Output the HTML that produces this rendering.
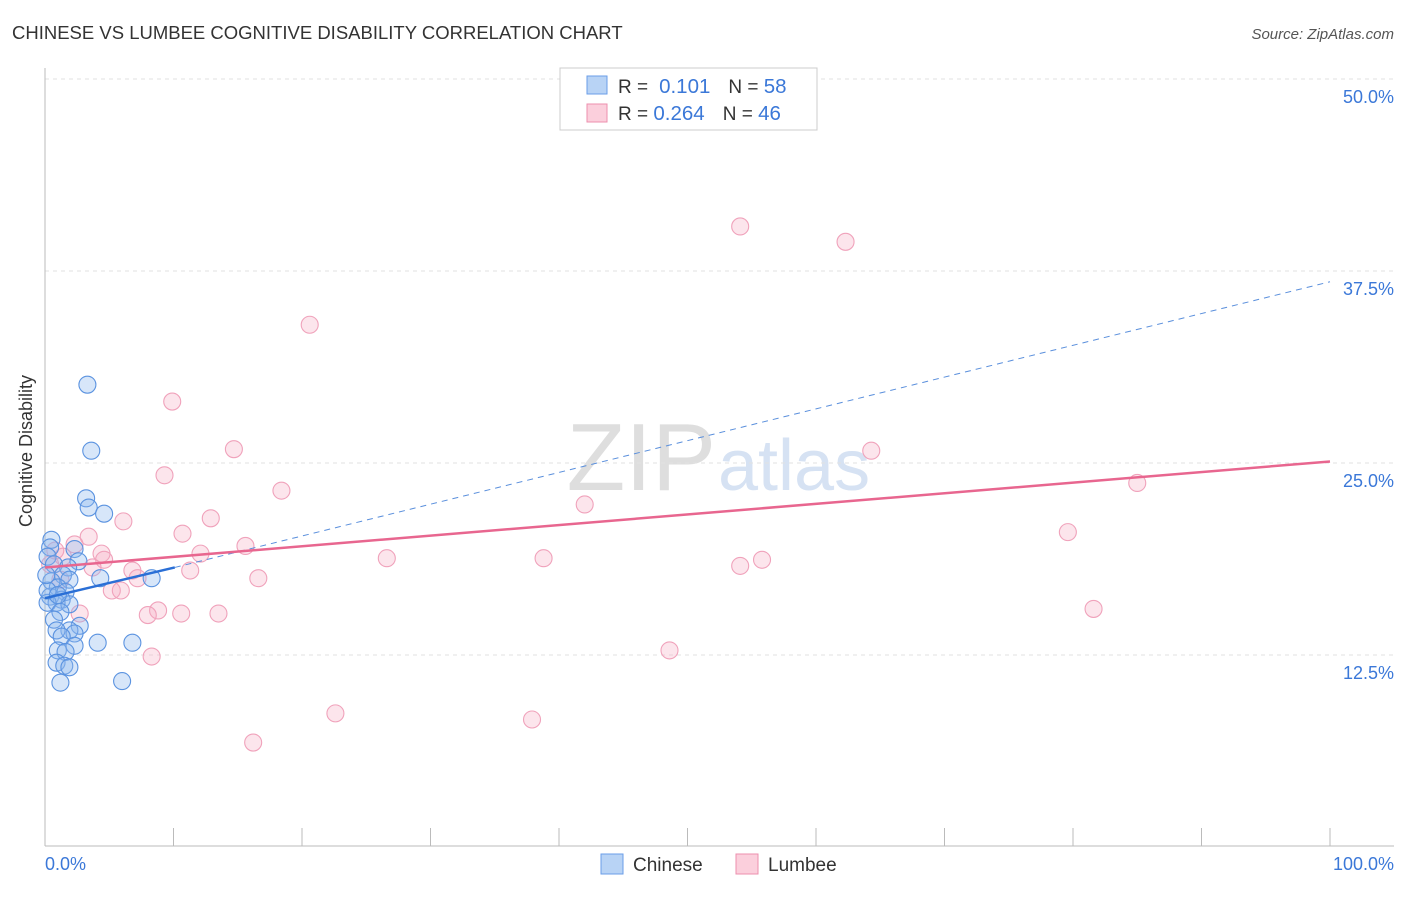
<!DOCTYPE html>
<html><head><meta charset="utf-8"><style>
body{margin:0;background:#fff;font-family:"Liberation Sans",sans-serif}
svg text{font-family:"Liberation Sans",sans-serif}
</style></head><body>
<svg id="c" width="1406" height="892" xmlns="http://www.w3.org/2000/svg">
<text x="12" y="39" font-size="18.5" fill="#333">CHINESE VS LUMBEE COGNITIVE DISABILITY CORRELATION CHART</text>
<text x="1394" y="39" font-size="15" fill="#555" font-style="italic" text-anchor="end">Source: ZipAtlas.com</text>
<text x="716" y="490" font-size="96" fill="#dedede" text-anchor="end" font-family="Liberation Serif">ZIP</text>
<text x="718" y="490" font-size="72" fill="#d6e2f3">atlas</text>
<g id="grid"></g>
<line x1="45" y1="68" x2="45" y2="846" stroke="#bbb"/>
<line x1="45" y1="846" x2="1394" y2="846" stroke="#bbb"/>
<text x="36" y="455" font-size="18" fill="#333" transform="rotate(-90 32 455)" text-anchor="middle">Cognitive Disability</text>
<text x="45" y="870" font-size="18" fill="#3b78d8">0.0%</text>
<text x="1394" y="870" font-size="18" fill="#3b78d8" text-anchor="end">100.0%</text>
<g id="pts"></g>
<g id="lines"></g>
<rect x="560" y="68" width="257" height="62" fill="#fff" stroke="#ccc"/>
<rect x="587" y="76" width="20" height="18" fill="#b8d3f5" stroke="#6a9ee8"/>
<rect x="587" y="104" width="20" height="18" fill="#fbcfdc" stroke="#ec8fae"/>
<text x="618" y="93" font-size="19" fill="#333">R = <tspan fill="#3b78d8" font-size="20.5">&#160;0.101</tspan><tspan dx="18">N = </tspan><tspan fill="#3b78d8" font-size="20.5">58</tspan></text>
<text x="618" y="120" font-size="19" fill="#333">R = <tspan fill="#3b78d8" font-size="20.5">0.264</tspan><tspan dx="18">N = </tspan><tspan fill="#3b78d8" font-size="20.5">46</tspan></text>
<rect x="601" y="854" width="22" height="20" fill="#b8d3f5" stroke="#6a9ee8"/>
<text x="633" y="871" font-size="19" fill="#333">Chinese</text>
<rect x="736" y="854" width="22" height="20" fill="#fbcfdc" stroke="#ec8fae"/>
<text x="768" y="871" font-size="19" fill="#333">Lumbee</text>
</svg>
<script>
const yTicks=[12.5,25,37.5,50];
const xTicks=[10,20,30,40,50,60,70,80,90,100];
const chineseX=[3.3,3.6,3.2,3.4,4.6,0.5,0.4,2.3,0.2,2.6,0.7,1.8,1.4,4.3,8.3,1.9,0.5,1.0,1.6,0.4,1.3,0.9,1.9,0.2,1.2,0.7,2.7,1.9,0.9,2.3,1.3,4.1,6.8,2.3,1.0,1.6,0.9,1.5,1.9,1.2,6.0,0.2,0.1,1.0];
const chineseY=[30.1,25.8,22.7,22.1,21.7,20.0,19.5,19.4,18.9,18.6,18.4,18.2,17.7,17.5,17.5,17.4,17.3,16.9,16.6,16.3,16.1,15.9,15.8,15.9,15.3,14.8,14.4,14.1,14.1,13.9,13.7,13.3,13.3,13.1,12.8,12.7,12.0,11.8,11.7,10.7,10.8,16.7,17.7,16.4];
const lumbeeX=[54.1,62.3,20.6,9.9,14.7,64.3,9.3,18.4,42.0,85.0,6.1,12.9,10.7,3.4,79.6,15.6,2.3,12.1,4.4,1.4,26.6,38.8,55.8,4.6,54.1,3.7,6.8,11.3,0.4,7.2,16.6,5.2,5.9,8.8,8.0,10.6,13.5,2.7,81.6,8.3,48.6,22.6,37.9,16.2,0.8,1.2];
const lumbeeY=[40.4,39.4,34.0,29.0,25.9,25.8,24.2,23.2,22.3,23.7,21.2,21.4,20.4,20.2,20.5,19.6,19.7,19.1,19.1,18.9,18.8,18.8,18.7,18.7,18.3,18.2,18.0,18.0,18.4,17.5,17.5,16.7,16.7,15.4,15.1,15.2,15.2,15.2,15.5,12.4,12.8,8.7,8.3,6.8,19.3,17.4];
const chineseTrend=[16.2,18.2,36.8]; // at x=0, 10.1, 100
const lumbeeTrend=[18.2,25.1]; // at x=0,100
const X=v=>45+v*12.85, Y=v=>847-v*15.36;
const NS="http://www.w3.org/2000/svg";
function mk(p,t,a){const e=document.createElementNS(NS,t);for(const k in a)e.setAttribute(k,a[k]);p.appendChild(e);return e;}
const g=document.getElementById('grid');
yTicks.forEach(t=>{
 const l=mk(g,'line',{x1:45,x2:1394,y1:Y(t),y2:Y(t),stroke:'#e2e2e2','stroke-dasharray':'4,4'});
 
 
 const tx=mk(g,'text',{x:1394,y:Y(t)+24,'font-size':18,fill:'#3b78d8','text-anchor':'end'});
 tx.textContent=t.toFixed(1)+'%';
 
 
});
xTicks.forEach(t=>{
 const l=mk(g,'line',{x1:X(t),x2:X(t),y1:828,y2:846,stroke:'#bbb'});
 
 
});
const p=document.getElementById('pts');
lumbeeX.forEach((v,i)=>{
 const c=mk(p,'circle',{cx:X(v),cy:Y(lumbeeY[i]),r:8.5,fill:'rgba(246,168,193,0.3)',stroke:'#f0a2bb','stroke-width':1.1});
 
 
});
chineseX.forEach((v,i)=>{
 const c=mk(p,'circle',{cx:X(v),cy:Y(chineseY[i]),r:8.5,fill:'rgba(140,182,238,0.35)',stroke:'#5b93e0','stroke-width':1.1});
 
 
});
const L=document.getElementById('lines');
let a=mk(L,'line',{x1:X(10.1),y1:Y(chineseTrend[1]),x2:X(100),y2:Y(chineseTrend[2]),stroke:'#5a8fdc','stroke-width':1,'stroke-dasharray':'6,5'});


a=mk(L,'line',{x1:X(0),y1:Y(lumbeeTrend[0]),x2:X(100),y2:Y(lumbeeTrend[1]),stroke:'#e8668f','stroke-width':2.5});


a=mk(L,'line',{x1:X(0),y1:Y(chineseTrend[0]),x2:X(10.1),y2:Y(chineseTrend[1]),stroke:'#2a6fd6','stroke-width':2.5});


</script>
</body></html>
